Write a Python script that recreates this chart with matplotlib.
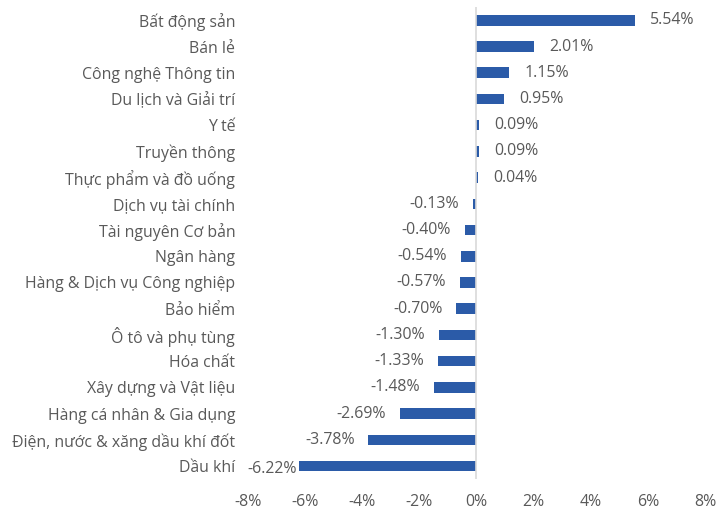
import matplotlib
matplotlib.use("Agg")
import matplotlib.pyplot as plt
from matplotlib.ticker import FuncFormatter

plt.rcParams['font.family'] = ['Open Sans', 'DejaVu Sans']

categories = ["Bất động sản", "Bán lẻ", "Công nghệ Thông tin", "Du lịch và Giải trí",
              "Y tế", "Truyền thông", "Thực phẩm và đồ uống", "Dịch vụ tài chính",
              "Tài nguyên Cơ bản", "Ngân hàng", "Hàng & Dịch vụ Công nghiệp", "Bảo hiểm",
              "Ô tô và phụ tùng", "Hóa chất", "Xây dựng và Vật liệu",
              "Hàng cá nhân & Gia dụng", "Điện, nước & xăng dầu khí đốt", "Dầu khí"]
values = [5.54, 2.01, 1.15, 0.95, 0.09, 0.09, 0.04, -0.13, -0.40, -0.54, -0.57,
          -0.70, -1.30, -1.33, -1.48, -2.69, -3.78, -6.22]
xticks = [-8, -6, -4, -2, 0, 2, 4, 6, 8]

bar_color = "#2B5BA8"
text_color = "#595959"
fs = 11.4

fig = plt.figure(figsize=(7.16, 5.13), dpi=100)
ax = fig.add_axes([0.346, 0.066, 0.639, 0.920])

y = list(range(len(categories)))
ax.barh(y, values, height=0.4, color=bar_color, zorder=2)
ax.set_ylim(len(categories) - 0.5, -0.5)
ax.set_xlim(-8, 8)
ax.set_xticks(xticks)
ax.xaxis.set_major_formatter(FuncFormatter(lambda v, p: f"{v:.0f}%"))
ax.set_yticks(y)
ax.set_yticklabels(categories)
ax.tick_params(axis='both', length=0, colors=text_color, labelsize=fs)
ax.tick_params(axis='y', pad=9)
ax.tick_params(axis='x', pad=11)

for s in ['top', 'right', 'bottom', 'left']:
    ax.spines[s].set_visible(False)
ax.axvline(0, color="#D9D9D9", lw=1.2, zorder=3)

texts = []
for yi, v in zip(y, values):
    if v >= 0:
        t = ax.annotate(f"{v:.2f}%", xy=(v, yi), xytext=(11, 0), textcoords='offset points',
                        ha='left', va='center', fontsize=fs, color=text_color)
    else:
        t = ax.annotate(f"{v:.2f}%", xy=(v, yi), xytext=(-10, 0), textcoords='offset points',
                        ha='right', va='center', fontsize=fs, color=text_color)
    texts.append(t)

fig.canvas.draw()
renderer = fig.canvas.get_renderer()
ax_left = ax.get_window_extent(renderer).x0
for t in texts:
    bb = t.get_window_extent(renderer)
    if bb.x0 < ax_left:
        shift = (ax_left - bb.x0) * 72 / fig.dpi
        ox, oy = t.xyann
        t.xyann = (ox + shift, oy - 2)

fig.savefig("out.png", dpi=100)
